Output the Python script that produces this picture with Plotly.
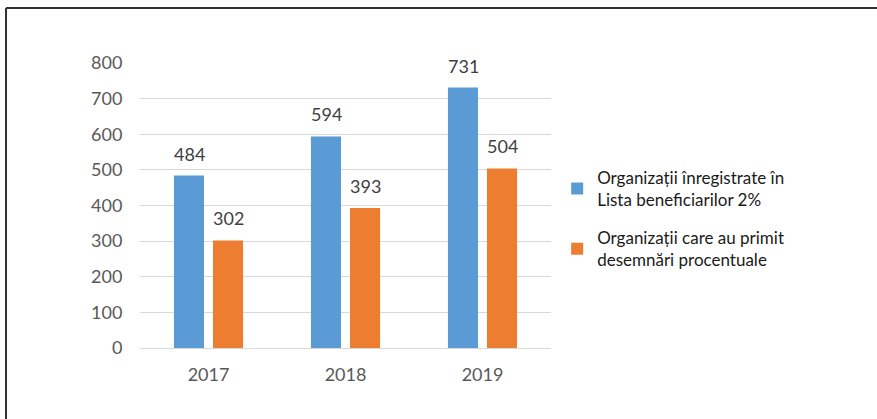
import plotly.graph_objects as go

years = ['2017', '2018', '2019']
inregistrate = [484, 594, 731]
primit = [302, 393, 504]
series_names = ['Organizații înregistrate în<br>Lista beneficiarilor 2%',
                'Organizații care au primit<br>desemnări procentuale']
colors = ['#5b9bd5', '#ed7d31']

font_family = 'Lato, Carlito, Open Sans, sans-serif'

fig = go.Figure()
for i, (name, vals, col) in enumerate(zip(series_names, [inregistrate, primit], colors)):
    fig.add_trace(go.Bar(x=years, y=vals, name=name, legendgroup=f'g{i}',
                         marker=dict(color=col, line=dict(width=0))))

# etichete de date deasupra barelor (x = indexul categoriei)
for vals, shift in zip([inregistrate, primit], [-19.5, 19.5]):
    for idx, v in enumerate(vals):
        fig.add_annotation(x=idx, y=v, text=str(v), showarrow=False, yanchor='bottom',
                           xshift=shift, yshift=9,
                           font=dict(size=18, color='#404040', family=font_family))

# chenar (doar sus si stanga sunt vizibile)
fig.add_shape(type='line', xref='paper', yref='paper', x0=-0.326, x1=1.8, y0=1.193, y1=1.193,
              line=dict(color='#333333', width=2))
fig.add_shape(type='line', xref='paper', yref='paper', x0=-0.326, x1=-0.326, y0=1.193, y1=-0.3,
              line=dict(color='#333333', width=2))

fig.update_layout(
    width=877, height=419,
    margin=dict(l=140, r=326, t=63, b=71, autoexpand=False),
    paper_bgcolor='white', plot_bgcolor='white',
    barmode='group', bargap=0.43, bargroupgap=0.23,
    font=dict(family=font_family, color='#595959'),
    showlegend=True,
    legend=dict(x=1.015, y=0.66, xanchor='left', yanchor='top',
                font=dict(size=17, color='#1a1a1a', family=font_family),
                traceorder='grouped', tracegroupgap=13, itemwidth=30),
    xaxis=dict(type='category', range=[-0.5, 2.5], showgrid=False, showline=True,
               linecolor='#d9d9d9', linewidth=1,
               tickfont=dict(size=18, color='#595959'), ticks='outside', ticklen=10,
               tickcolor='rgba(0,0,0,0)'),
    yaxis=dict(range=[0, 800], dtick=100, showgrid=True, gridcolor='#d9d9d9', gridwidth=1,
               zeroline=False, showline=False, tickfont=dict(size=18, color='#595959'),
               ticks='outside', ticklen=13, tickcolor='rgba(0,0,0,0)'),
)

fig.write_html("out.html", config={'displayModeBar': False},
               post_script="document.body.style.margin='0';")
